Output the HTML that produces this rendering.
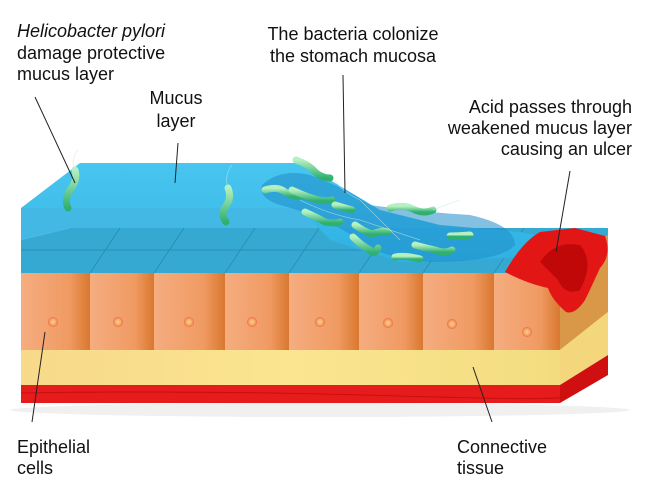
<!DOCTYPE html>
<html><head><style>
body{margin:0;background:#fff}
svg{display:block}
text{font-family:"Liberation Sans",sans-serif;font-size:18px;fill:#111}
</style></head><body>
<svg width="650" height="500" viewBox="0 0 650 500" xmlns="http://www.w3.org/2000/svg">
<defs>
<linearGradient id="cell" x1="0" x2="1"><stop offset="0" stop-color="#f5ad80"/><stop offset="0.7" stop-color="#f09a62"/><stop offset="1" stop-color="#d9782f"/></linearGradient>
<linearGradient id="yel" x1="0" x2="1"><stop offset="0" stop-color="#f7d98a"/><stop offset="0.5" stop-color="#fbe590"/><stop offset="1" stop-color="#f3dc80"/></linearGradient>
<linearGradient id="top" x1="0" y1="0" x2="0" y2="1"><stop offset="0" stop-color="#3ec3ef"/><stop offset="1" stop-color="#2fb2e4"/></linearGradient>
<radialGradient id="nuc"><stop offset="0" stop-color="#fbd77a"/><stop offset="0.6" stop-color="#f6a66a"/><stop offset="1" stop-color="#ee6a50"/></radialGradient>
<linearGradient id="bac" x1="0" x2="0" y1="0" y2="1"><stop offset="0" stop-color="#b5f0c0"/><stop offset="1" stop-color="#2fb070"/></linearGradient>
</defs>
<ellipse cx="320" cy="410" rx="310" ry="7" fill="#f0f0f0"/>
<polygon points="560,273 608,235 608,312 560,350" fill="#d99848"/>
<polygon points="560,350 608,312 608,355 560,385" fill="#f4d77c"/>
<polygon points="560,385 608,355 608,375 560,403" fill="#d01010"/>
<rect x="21" y="385" width="539" height="18" fill="#e61c1c"/>
<path d="M21 393 Q200 390 400 396 T560 394" stroke="#c80e0e" fill="none"/>
<rect x="21" y="350" width="539" height="35" fill="url(#yel)"/>
<g fill="url(#cell)">
<rect x="21" y="273" width="69" height="77"/><rect x="90" y="273" width="64" height="77"/>
<rect x="154" y="273" width="71" height="77"/><rect x="225" y="273" width="64" height="77"/>
<rect x="289" y="273" width="70" height="77"/><rect x="359" y="273" width="64" height="77"/>
<rect x="423" y="273" width="71" height="77"/><rect x="494" y="273" width="66" height="77"/>
</g>
<g fill="url(#nuc)">
<circle cx="53" cy="322" r="5"/><circle cx="118" cy="322" r="5"/><circle cx="189" cy="322" r="5"/><circle cx="252" cy="322" r="5"/>
<circle cx="320" cy="322" r="5"/><circle cx="388" cy="323" r="5"/><circle cx="452" cy="324" r="5"/><circle cx="527" cy="332" r="5"/>
</g>
<polygon points="21,273 560,273 608,235 608,228 70,228 21,240" fill="#35a9d2"/>
<g stroke="#2a8fb8" stroke-width="1" fill="none">
<line x1="21" y1="250" x2="590" y2="250"/>
<line x1="90" y1="273" x2="120" y2="228"/><line x1="154" y1="273" x2="184" y2="228"/>
<line x1="225" y1="273" x2="255" y2="228"/><line x1="289" y1="273" x2="319" y2="228"/>
<line x1="359" y1="273" x2="389" y2="228"/><line x1="423" y1="273" x2="453" y2="228"/>
<line x1="494" y1="273" x2="524" y2="228"/>
</g>
<polygon points="21,208 21,240 70,228 340,228 300,208" fill="#2fb0e2" opacity="0.9"/>
<polygon points="21,208 80,163 300,163 330,180 380,210 440,225 520,232 560,240 510,258 400,262 330,240 300,208" fill="url(#top)" opacity="0.95"/>
<path d="M262 185 Q280 168 310 175 Q350 190 370 205 Q420 212 470 215 Q515 225 515 245 Q500 262 430 262 Q380 258 360 240 Q320 215 280 205 Q258 198 262 185Z" fill="#1f8cc8" opacity="0.55"/>
<path d="M505 272 Q522 242 540 232 L575 228 L605 236 Q612 255 600 268 Q590 290 585 300 Q575 315 566 312 Q552 300 548 288 Q528 284 505 272Z" fill="#e31616"/>
<path d="M540 262 Q555 240 580 245 Q595 262 580 290 Q565 296 558 280Z" fill="#c00808"/>
<g stroke="url(#bac)" stroke-width="7" stroke-linecap="round" fill="none">
<path d="M75 170 Q78 180 70 190 Q64 200 68 208"/>
<path d="M228 188 Q232 198 226 206 Q220 214 226 222"/>
<path d="M296 160 Q310 165 315 172 Q322 178 330 178"/>
<path d="M265 190 Q278 186 285 192 Q295 198 305 196"/>
<path d="M292 190 Q305 196 312 198 Q322 202 332 200"/>
<path d="M305 212 Q318 218 325 222 Q335 224 340 222"/>
<path d="M335 205 Q345 208 352 210"/>
<path d="M355 225 Q365 232 372 234 Q382 230 388 232"/>
<path d="M353 237 Q362 246 370 250 Q374 256 378 248"/>
<path d="M390 208 Q405 204 415 210 Q425 214 433 210"/>
<path d="M415 245 Q425 248 435 250 Q445 254 452 250"/>
<path d="M450 236 Q458 236 470 235"/>
<path d="M395 257 Q405 255 420 259"/>
</g>
<g stroke="#bfe8e0" stroke-width="0.6" fill="none" opacity="0.8">
<path d="M75 170 Q70 160 78 150"/><path d="M228 188 Q224 175 232 165"/><path d="M335 180 Q340 190 360 200 Q380 220 400 240"/>
<path d="M433 210 Q445 205 460 200"/><path d="M300 200 Q330 215 360 220 Q390 230 420 240"/>
</g>
<g stroke="#222" stroke-width="1">
<line x1="35" y1="97" x2="75" y2="183"/>
<line x1="178" y1="143" x2="175" y2="183"/>
<line x1="343" y1="75" x2="345" y2="193"/>
<line x1="570" y1="171" x2="556" y2="252"/>
<line x1="45" y1="332" x2="32" y2="422"/>
<line x1="473" y1="367" x2="492" y2="422"/>
</g>
<text x="17" y="37"><tspan font-style="italic">Helicobacter pylori</tspan></text>
<text x="17" y="59">damage protective</text>
<text x="17" y="80">mucus layer</text>
<text x="176" y="104" text-anchor="middle">Mucus</text>
<text x="176" y="127" text-anchor="middle">layer</text>
<text x="353" y="40" text-anchor="middle">The bacteria colonize</text>
<text x="353" y="62" text-anchor="middle">the stomach mucosa</text>
<text x="632" y="113" text-anchor="end">Acid passes through</text>
<text x="632" y="134" text-anchor="end">weakened mucus layer</text>
<text x="632" y="155" text-anchor="end">causing an ulcer</text>
<text x="17" y="453">Epithelial</text>
<text x="17" y="474">cells</text>
<text x="457" y="453">Connective</text>
<text x="457" y="474">tissue</text>
</svg>
</body></html>
